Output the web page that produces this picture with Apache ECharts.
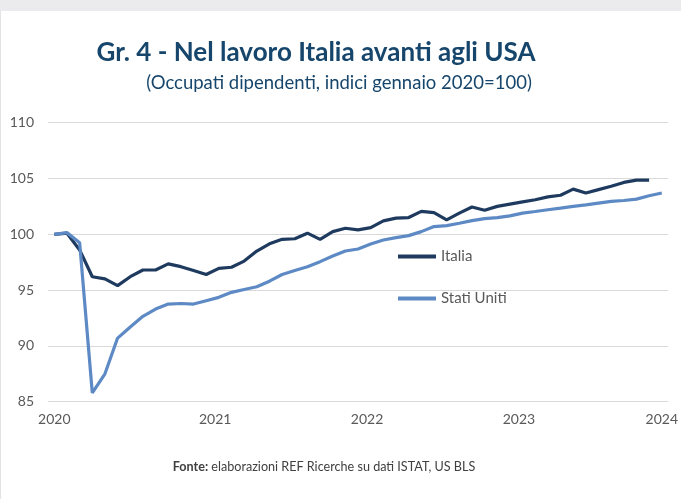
<!DOCTYPE html>
<html>
<head>
<meta charset="utf-8">
<script src="https://cdn.jsdelivr.net/npm/echarts@6/dist/echarts.min.js"></script>
<style>
html,body{margin:0;padding:0;background:#ffffff;}
#chart{width:681px;height:499px;}
</style>
</head>
<body>
<div id="chart"></div>
<script>
// Months Jan 2020 .. Jan 2024
var months = [
 '2020-01','2020-02','2020-03','2020-04','2020-05','2020-06','2020-07','2020-08','2020-09','2020-10','2020-11','2020-12',
 '2021-01','2021-02','2021-03','2021-04','2021-05','2021-06','2021-07','2021-08','2021-09','2021-10','2021-11','2021-12',
 '2022-01','2022-02','2022-03','2022-04','2022-05','2022-06','2022-07','2022-08','2022-09','2022-10','2022-11','2022-12',
 '2023-01','2023-02','2023-03','2023-04','2023-05','2023-06','2023-07','2023-08','2023-09','2023-10','2023-11','2023-12',
 '2024-01'
];
var italia = [
 100.0,100.1,98.6,96.2,96.0,95.4,96.2,96.8,96.8,97.35,97.1,96.75,
 96.4,96.95,97.05,97.6,98.5,99.15,99.55,99.6,100.1,99.55,100.24,100.54,
 100.4,100.6,101.2,101.45,101.5,102.05,101.95,101.3,101.9,102.45,102.15,102.5,
 102.7,102.9,103.1,103.35,103.5,104.05,103.7,104.0,104.3,104.65,104.85,104.85
];
var statiUniti = [
 100.0,100.15,99.25,85.8,87.5,90.7,91.7,92.65,93.3,93.75,93.8,93.75,
 94.05,94.35,94.8,95.05,95.3,95.8,96.4,96.75,97.1,97.55,98.05,98.5,
 98.68,99.13,99.49,99.7,99.88,100.24,100.69,100.78,100.99,101.23,101.41,101.5,
 101.65,101.9,102.04,102.2,102.34,102.5,102.64,102.8,102.95,103.03,103.15,103.45,
 103.7
];
var yTicks = {min: 85, max: 110, interval: 5};
var titleText = 'Gr. 4 - Nel lavoro Italia avanti agli USA';
var subtitleText = '(Occupati dipendenti, indici gennaio 2020=100)';
var sourceBold = 'Fonte:';
var sourceText = ' elaborazioni REF Ricerche su dati ISTAT, US BLS';

var FONT = 'Lato, "Open Sans", sans-serif';
var chart = echarts.init(document.getElementById('chart'), null, {renderer: 'canvas'});
chart.setOption({
  backgroundColor: '#ffffff',
  animation: false,
  textStyle: {fontFamily: FONT},
  graphic: [
    {type: 'rect', shape: {x: 0, y: 0, width: 681, height: 11}, style: {fill: '#ebebed'}, silent: true},
    {type: 'line', shape: {x1: 0.5, y1: 11, x2: 0.5, y2: 499}, style: {stroke: '#e3e3e3', lineWidth: 1}, silent: true},
    {type: 'text', x: 316, y: 53, style: {text: titleText, fill: '#17466c', font: 'bold 26px ' + FONT, textAlign: 'center', textVerticalAlign: 'middle'}},
    {type: 'text', x: 339, y: 83, style: {text: subtitleText, fill: '#17466c', font: '18.5px ' + FONT, textAlign: 'center', textVerticalAlign: 'middle'}},
    {type: 'text', x: 324, y: 467, style: {
      text: '{b|' + sourceBold + '}{n|' + sourceText + '}',
      textAlign: 'center', textVerticalAlign: 'middle',
      rich: {
        b: {fontFamily: FONT, fontWeight: 'bold', fontSize: 12.6, fill: '#404040'},
        n: {fontFamily: FONT, fontSize: 12.6, fill: '#404040'}
      }
    }}
  ],
  grid: {left: 48, right: 11, top: 122.7, bottom: 97.3, containLabel: false},
  legend: {
    orient: 'vertical',
    left: 393, top: 243.5,
    itemWidth: 38, itemHeight: 4, itemGap: 26,
    icon: 'rect',
    textStyle: {color: '#595959', fontSize: 15, fontFamily: FONT, lineHeight: 16},
    data: ['Italia', 'Stati Uniti']
  },
  xAxis: {
    type: 'category',
    data: months,
    boundaryGap: true,
    axisLine: {show: false},
    axisTick: {show: false},
    splitLine: {show: false},
    axisLabel: {
      interval: 11,
      margin: 11,
      color: '#595959',
      fontSize: 14,
      formatter: function (v, i) {
        var y = v.substring(0, 4);
        if (i === 0 || i === months.length - 1) return '{e|' + y + '}';
        return '{m|' + y + '}';
      },
      rich: {
        e: {color: '#595959', fontSize: 14, fontFamily: FONT},
        m: {color: '#595959', fontSize: 14, fontFamily: FONT, padding: [0, 0, 0, 18]}
      }
    }
  },
  yAxis: {
    type: 'value',
    min: yTicks.min, max: yTicks.max, interval: yTicks.interval,
    axisLine: {show: false},
    axisTick: {show: false},
    axisLabel: {color: '#595959', fontSize: 14, margin: 14},
    splitLine: {lineStyle: {color: '#d9d9d9', width: 1}}
  },
  series: [
    {name: 'Italia', type: 'line', data: italia, symbol: 'none', showSymbol: false,
     lineStyle: {color: '#1f3a5f', width: 3.2}, itemStyle: {color: '#1f3a5f'}},
    {name: 'Stati Uniti', type: 'line', data: statiUniti, symbol: 'none', showSymbol: false,
     lineStyle: {color: '#5d8ac4', width: 3.2}, itemStyle: {color: '#5d8ac4'}}
  ]
});
</script>
</body>
</html>
